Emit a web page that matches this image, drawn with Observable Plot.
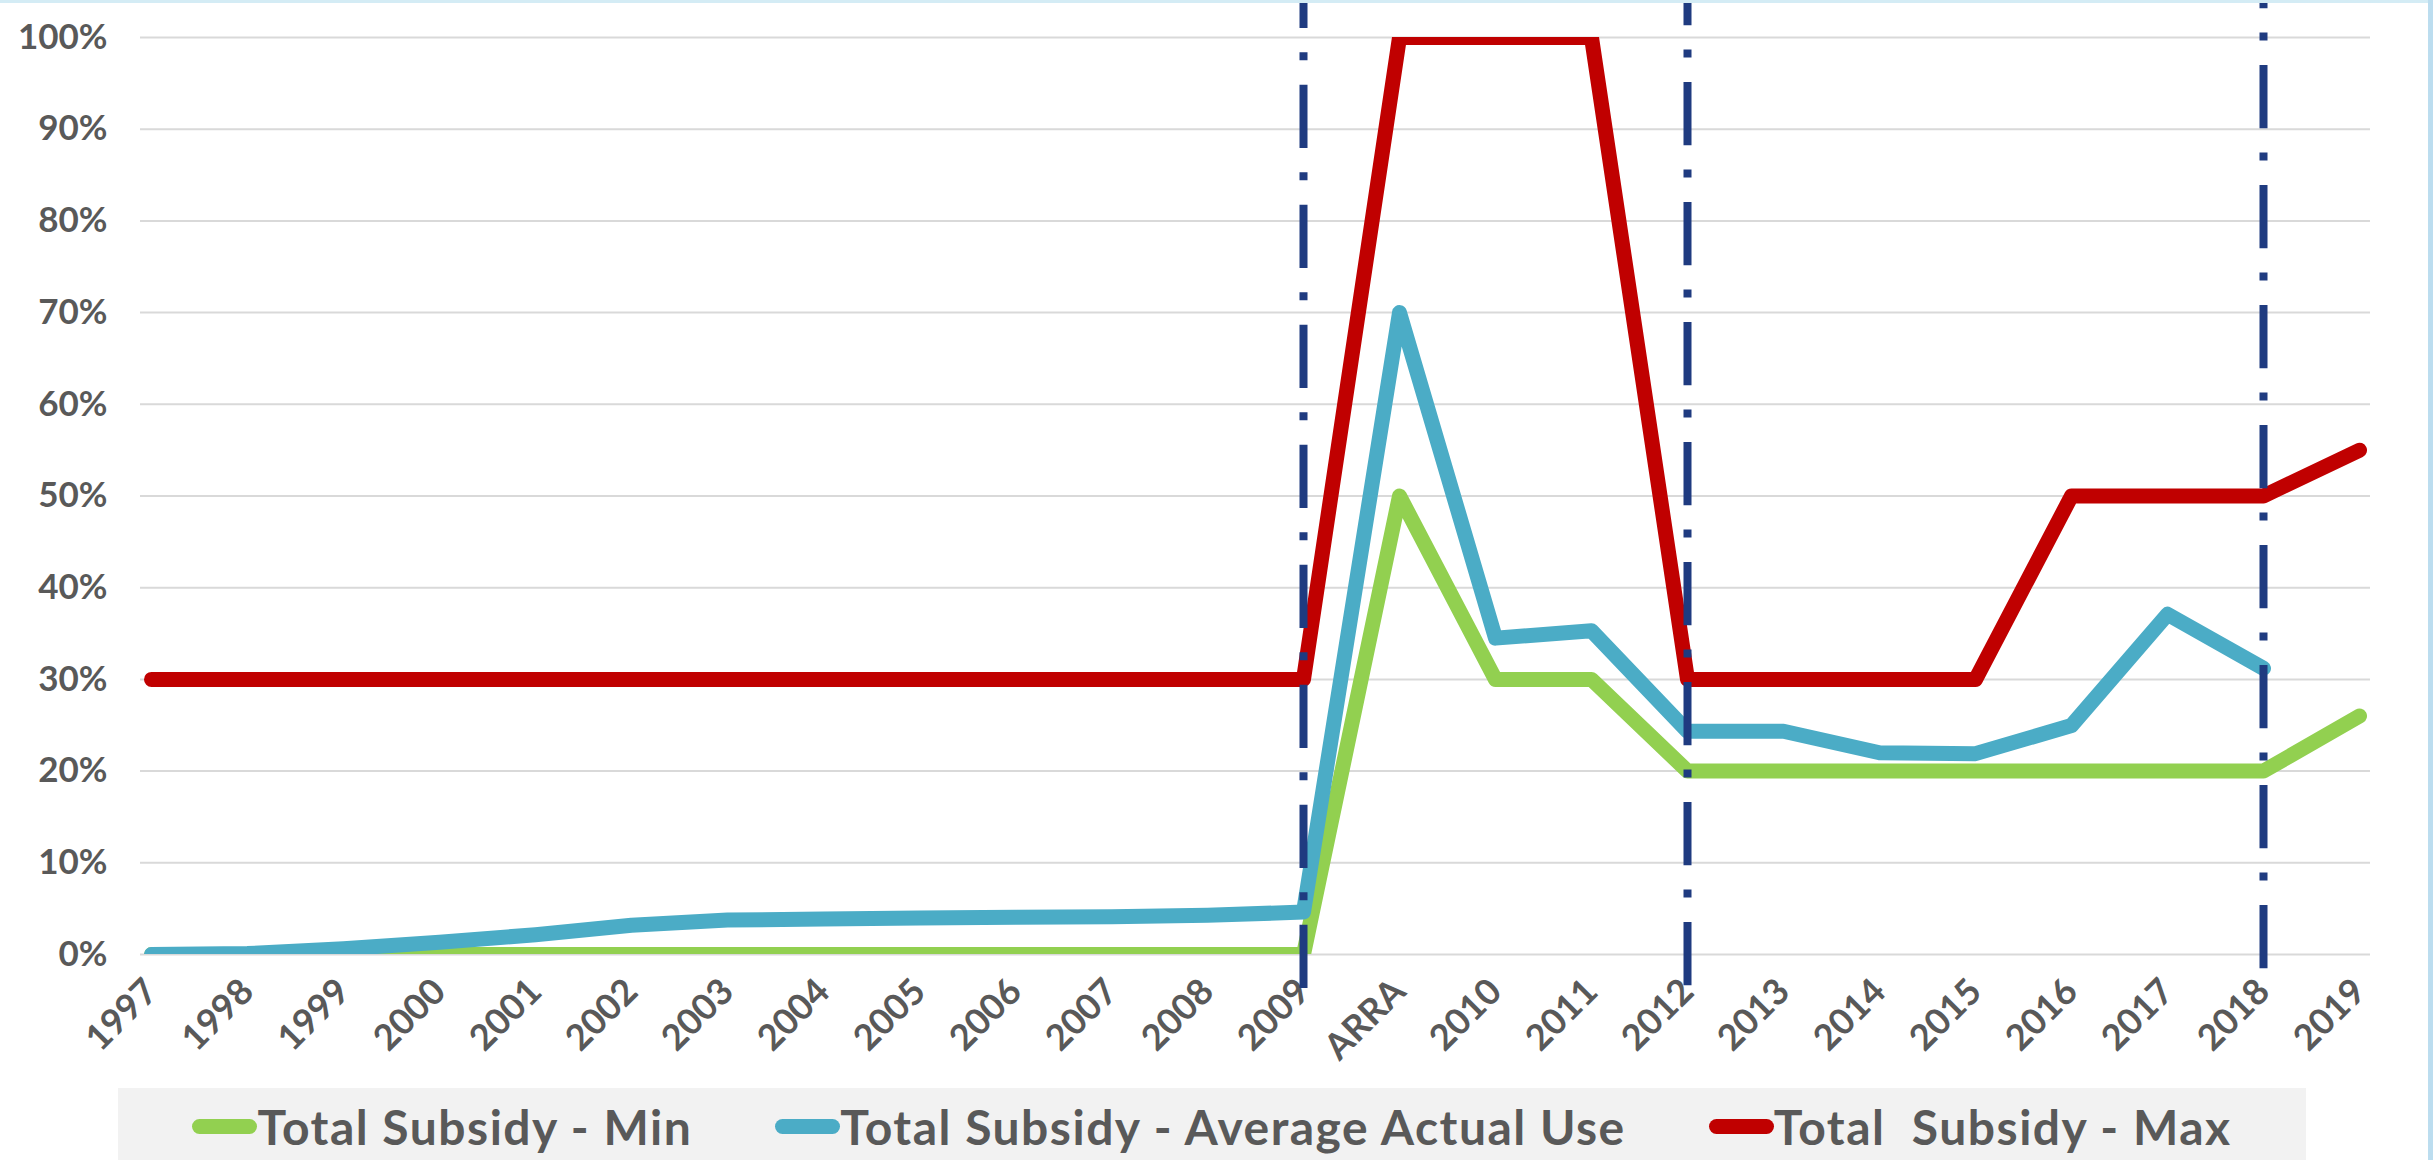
<!DOCTYPE html>
<html><head><meta charset="utf-8">
<script src="https://cdn.jsdelivr.net/npm/d3@7"></script>
<script src="https://cdn.jsdelivr.net/npm/@observablehq/plot@0.6"></script>
<style>
html,body{margin:0;padding:0;background:#fff;}
body{width:2433px;height:1160px;overflow:hidden;position:relative;font-family:Lato,"Open Sans",sans-serif;}
#chart{position:absolute;left:0;top:0;}
#legend{position:absolute;left:118px;top:1088px;width:2188px;height:76px;background:#F2F2F2;display:flex;justify-content:center;align-items:center;gap:83px;}
.item{display:flex;align-items:center;font-weight:700;font-size:48px;letter-spacing:1.5px;color:#595959;white-space:pre;}
.sw{width:65px;height:15px;border-radius:8px;}
#topstrip{position:absolute;left:0;top:0;width:2433px;height:3px;background:#D4ECF5;}
#rightstrip{position:absolute;left:2428px;top:0;width:5px;height:1160px;background:#BCDDEF;}
</style></head>
<body>
<div id="chart"></div>
<div id="legend"></div>
<div id="topstrip"></div><div id="rightstrip"></div>
<script>
const categories = ["1997","1998","1999","2000","2001","2002","2003","2004","2005","2006","2007","2008","2009","ARRA","2010","2011","2012","2013","2014","2015","2016","2017","2018","2019"];
const minValues = [0,0,0,0,0,0,0,0,0,0,0,0,0,0.50,0.30,0.30,0.20,0.20,0.20,0.20,0.20,0.20,0.20,0.26];
const avgValues = [0,0.001,0.0063,0.0133,0.0216,0.0318,0.0376,0.0387,0.0398,0.0405,0.0412,0.0427,0.0463,0.70,0.345,0.353,0.2435,0.2435,0.220,0.219,0.2497,0.371,0.312,null];
const maxValues = [0.30,0.30,0.30,0.30,0.30,0.30,0.30,0.30,0.30,0.30,0.30,0.30,0.30,1.00,1.00,1.00,0.30,0.30,0.30,0.30,0.50,0.50,0.50,0.55];
const seriesNames = ["Total Subsidy - Min","Total Subsidy - Average Actual Use","Total  Subsidy - Max"];
const seriesColors = ["#92D050","#4BACC6","#C00000"];
const yTicks = [0,0.1,0.2,0.3,0.4,0.5,0.6,0.7,0.8,0.9,1.0];
const markerYears = ["2009","2012","2018"];
const markerBottoms = [-0.037,-0.034,-0.0156];
const markerTops = [1.06,1.06,1.06];

const seriesValues = [minValues, avgValues, maxValues];
const seriesData = seriesValues.map((vals, s) => categories.map((c, i) => ({cat: c, v: vals[i], series: seriesNames[s]})));
const markerData = markerYears.map((c, i) => ({cat: c, bottom: markerBottoms[i], top: markerTops[i]}));

const lineOpts = {x: "cat", y: "v", strokeWidth: 15, strokeLinejoin: "round", strokeLinecap: "round", clip: true};

const chart = Plot.plot({
  width: 2433, height: 1088,
  marginLeft: 140, marginRight: 63, marginTop: 37, marginBottom: 134,
  style: {background: "white", color: "#595959", fontFamily: "Lato, 'Open Sans', sans-serif", overflow: "visible"},
  x: {type: "point", domain: categories, padding: 0},
  y: {domain: [0, 1]},
  marks: [
    Plot.ruleY(yTicks, {stroke: "#D9D9D9", strokeWidth: 2}),
    Plot.axisY(yTicks, {tickSize: 0, tickPadding: 33, tickFormat: d3.format(".0%"), fontSize: 35, fontWeight: "bold", fill: "#595959", label: null}),
    Plot.axisX({tickRotate: -45, tickSize: 0, tickPadding: 31, fontSize: 36, fontWeight: "bold", fill: "#595959", label: null}),
    Plot.line(seriesData[0], {...lineOpts, stroke: seriesColors[0]}),
    Plot.line(seriesData[1], {...lineOpts, stroke: seriesColors[1]}),
    Plot.line(seriesData[2], {...lineOpts, stroke: seriesColors[2]}),
    Plot.ruleX(markerData, {x: "cat", y1: "bottom", y2: "top", stroke: "#1F3B80", strokeWidth: 8, strokeDasharray: "63.3,24.4,8,24.3"})
  ]
});
document.getElementById("chart").appendChild(chart);

const legend = document.getElementById("legend");
seriesNames.forEach((name, i) => {
  const item = document.createElement("div");
  item.className = "item";
  const sw = document.createElement("div");
  sw.className = "sw";
  sw.style.background = seriesColors[i];
  const t = document.createElement("span");
  t.textContent = name;
  item.appendChild(sw);
  item.appendChild(t);
  legend.appendChild(item);
});
</script>
</body></html>
